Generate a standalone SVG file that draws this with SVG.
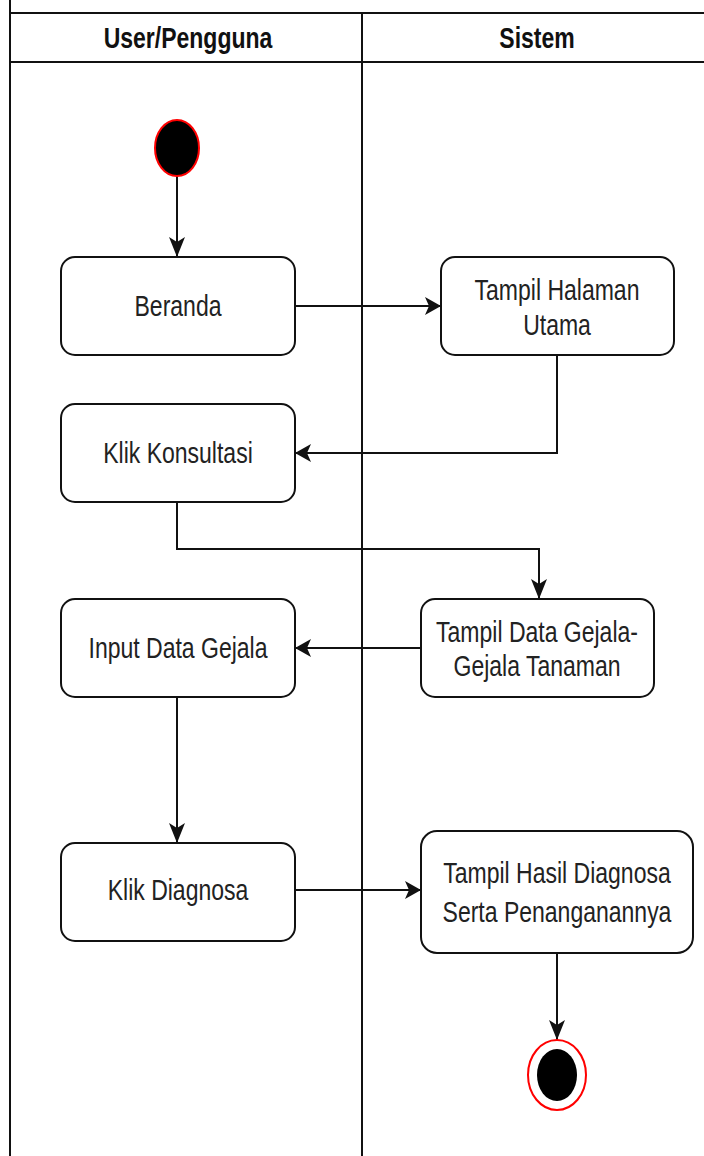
<svg xmlns="http://www.w3.org/2000/svg" width="704" height="1156" viewBox="0 0 704 1156">
<style>
.lane{stroke:#111;stroke-width:2;fill:none}
.box{fill:#fff;stroke:#111;stroke-width:2}
.t{font-family:"Liberation Sans",Arial,sans-serif;font-size:23px;fill:#222;text-anchor:middle}
.h{font-family:"Liberation Sans",Arial,sans-serif;font-size:23px;font-weight:bold;fill:#111;text-anchor:middle}
.c{stroke:#111;stroke-width:2;fill:none}
.ch{marker-end:url(#arrH)}
.cv{marker-end:url(#arrV)}
</style>
<defs>
<marker id="arrH" markerUnits="userSpaceOnUse" markerWidth="18" markerHeight="20" refX="16" refY="9" orient="auto">
<path d="M0,0 L16,9 L0,18 L4,9 Z" fill="#111"/>
</marker>
<marker id="arrV" markerUnits="userSpaceOnUse" markerWidth="22" markerHeight="18" refX="20" refY="8" orient="auto">
<path d="M0,0 L20,8 L0,16 L5,8 Z" fill="#111"/>
</marker>
</defs>
<rect width="704" height="1156" fill="#fff"/>
<g id="lanes">
<line class="lane" x1="10" y1="0" x2="10" y2="1156"/>
<line class="lane" x1="10" y1="13" x2="704" y2="13"/>
<line class="lane" x1="10" y1="62" x2="704" y2="62"/>
<line class="lane" x1="362" y1="13" x2="362" y2="1156"/>
<text class="h" transform="translate(188,38) scale(1,1.28)" y="8">User/Pengguna</text>
<text class="h" transform="translate(537,38) scale(1,1.28)" y="8">Sistem</text>
</g>
<g id="connectors">
<path class="c cv" d="M177,176 L177,257"/>
<path class="c ch" d="M295,306 L441,306"/>
<path class="c ch" d="M557,355 L557,453 L295,453"/>
<path class="c cv" d="M177,502 L177,549 L539,549 L539,599"/>
<path class="c ch" d="M421,648 L295,648"/>
<path class="c cv" d="M177,697 L177,843"/>
<path class="c ch" d="M295,890 L421,890"/>
<path class="c cv" d="M557,953 L557,1040"/>
</g>
<g id="start">
<ellipse cx="177" cy="148" rx="22" ry="28" fill="#000" stroke="#f00" stroke-width="2"/>
</g>
<g id="beranda">
<rect class="box" x="61" y="257" width="234" height="98" rx="14"/>
<text class="t" transform="translate(178,306) scale(1,1.28)" y="8">Beranda</text>
</g>
<g id="tampil-halaman">
<rect class="box" x="441" y="257" width="233" height="98" rx="14"/>
<text class="t" transform="translate(557,290) scale(1,1.28)" y="8">Tampil Halaman</text>
<text class="t" transform="translate(557,325) scale(1,1.28)" y="8">Utama</text>
</g>
<g id="klik-konsultasi">
<rect class="box" x="61" y="404" width="234" height="98" rx="14"/>
<text class="t" transform="translate(178,453) scale(1,1.28)" y="8">Klik Konsultasi</text>
</g>
<g id="input-data">
<rect class="box" x="61" y="599" width="234" height="98" rx="14"/>
<text class="t" transform="translate(178,648) scale(1,1.28)" y="8">Input Data Gejala</text>
</g>
<g id="tampil-data">
<rect class="box" x="421" y="599" width="233" height="98" rx="14"/>
<text class="t" transform="translate(537,632) scale(1,1.28)" y="8">Tampil Data Gejala-</text>
<text class="t" transform="translate(537,666) scale(1,1.28)" y="8">Gejala Tanaman</text>
</g>
<g id="klik-diagnosa">
<rect class="box" x="61" y="843" width="234" height="98" rx="14"/>
<text class="t" transform="translate(178,890) scale(1,1.28)" y="8">Klik Diagnosa</text>
</g>
<g id="tampil-hasil">
<rect class="box" x="421" y="831" width="272" height="122" rx="16"/>
<text class="t" transform="translate(557,873) scale(1,1.28)" y="8">Tampil Hasil Diagnosa</text>
<text class="t" transform="translate(557,912) scale(1,1.28)" y="8">Serta Penanganannya</text>
</g>
<g id="end">
<ellipse cx="557" cy="1075" rx="29" ry="35" fill="#fff" stroke="#f00" stroke-width="2"/>
<ellipse cx="557" cy="1075" rx="20" ry="26" fill="#000"/>
</g>
</svg>
